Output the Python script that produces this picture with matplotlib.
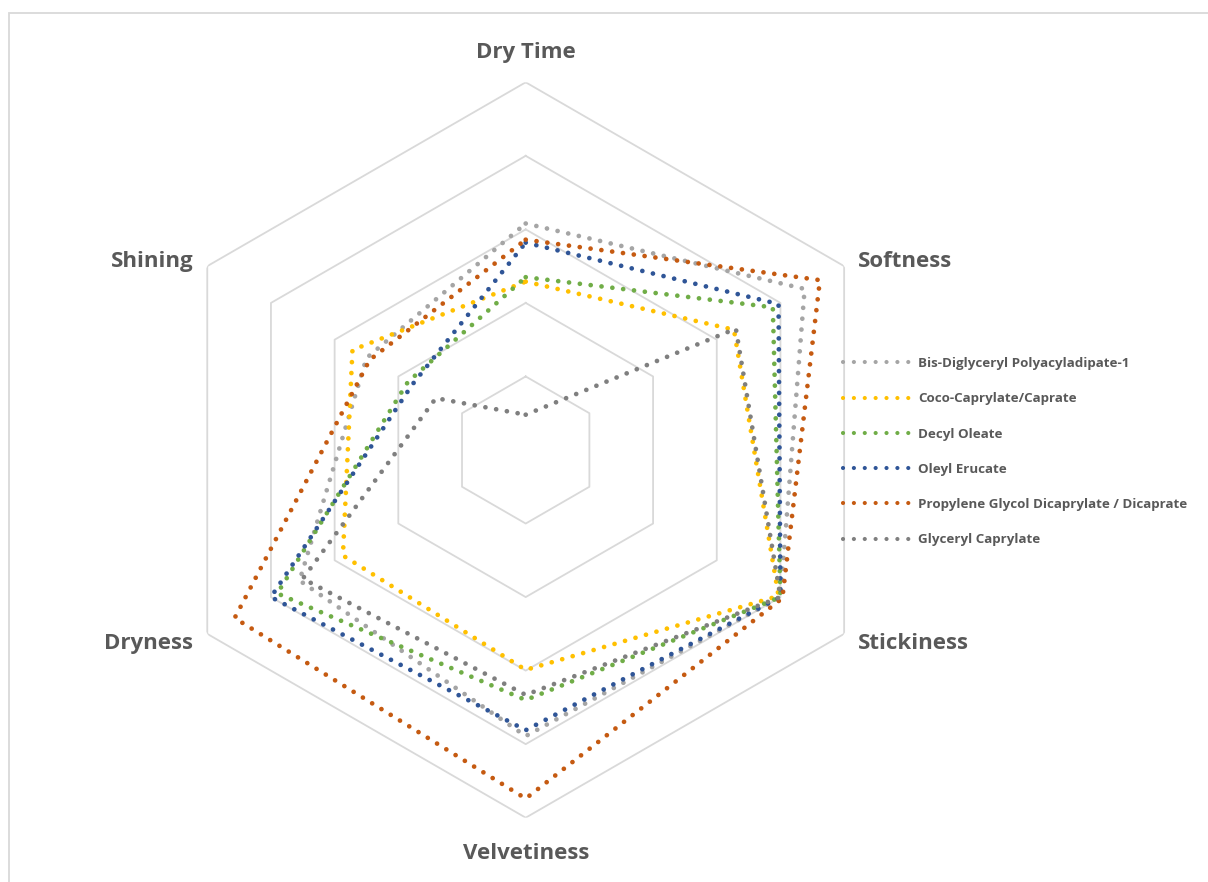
import numpy as np
import matplotlib.pyplot as plt
from matplotlib.lines import Line2D
from matplotlib.patches import Rectangle

# axes of the radar, clockwise from the top
categories = ["Dry Time", "Softness", "Stickiness", "Velvetiness", "Dryness", "Shining"]

series_names = ["Bis-Diglyceryl Polyacyladipate-1",
                "Coco-Caprylate/Caprate",
                "Decyl Oleate",
                "Oleyl Erucate",
                "Propylene Glycol Dicaprylate / Dicaprate",
                "Glyceryl Caprylate"]

bis_diglyceryl = [3.08, 4.38, 4.00, 3.89, 3.55, 2.50]
coco_caprylate = [2.29, 3.27, 3.97, 2.99, 2.87, 2.72]
decyl_oleate = [2.35, 3.88, 4.00, 3.40, 3.90, 1.85]
oleyl_erucate = [2.82, 3.97, 4.00, 3.81, 4.00, 1.78]
propylene_glycol = [2.86, 4.62, 4.03, 4.74, 4.57, 2.45]
glyceryl_caprylate = [0.48, 3.30, 4.00, 3.33, 3.50, 1.41]

ring_levels = [1, 2, 3, 4, 5]

colors = ["#A5A5A5", "#FFC000", "#70AD47", "#2F5597", "#C55A11", "#7F7F7F"]

plt.rcParams['font.family'] = ['Open Sans', 'DejaVu Sans']
label_color = "#595959"
grid_color = "#D9D9D9"

W, H = 1208, 882
fig = plt.figure(figsize=(W / 100, H / 100), dpi=100)

# chart border (runs off the right and bottom edge)
fig.add_artist(Rectangle((9 / W, -0.05), 1.2, 1 - 13 / H + 0.05, transform=fig.transFigure,
                         fill=False, ec=grid_color, lw=1.3))

cx, cy, R = 525.7, 450.0, 367.7
ax = fig.add_axes([(cx - R) / W, (H - cy - R) / H, 2 * R / W, 2 * R / H], projection='polar')
ax.set_theta_zero_location('N')
ax.set_theta_direction(-1)
ax.set_ylim(0, 5)
ax.grid(False)
ax.set_xticks([])
ax.set_yticks([])
ax.spines['polar'].set_visible(False)
ax.patch.set_visible(False)

theta = np.deg2rad(np.arange(len(categories)) * 360.0 / len(categories))
theta_closed = np.append(theta, theta[0])

for lev in ring_levels:
    ax.plot(theta_closed, [lev] * len(theta_closed), color=grid_color, lw=1.3, zorder=1)

dot_style = (0, (0.01, 2.3))
all_series = [bis_diglyceryl, coco_caprylate, decyl_oleate, oleyl_erucate,
              propylene_glycol, glyceryl_caprylate]
for name, vals, col in zip(series_names, all_series, colors):
    v = np.append(vals, vals[0])
    ax.plot(theta_closed, v, color=col, lw=3.4, linestyle=dot_style,
            dash_capstyle='round', label=name, zorder=3)

# category labels placed next to the outer vertices
label_pos = [
    ("center", (0, 24)),
    ("left", (14, -1)),
    ("left", (14, -15)),
    ("center", (0, -41)),
    ("right", (-14, -15)),
    ("right", (-14, -1)),
]
for cat, t, (ha, off) in zip(categories, theta, label_pos):
    ax.annotate(cat, xy=(t, 5), xytext=off, textcoords='offset pixels',
                ha=ha, va='baseline', fontsize=16, fontweight='bold',
                color=label_color, annotation_clip=False)

handles = [Line2D([0], [0], color=c, lw=3.0, linestyle=(0, (0.01, 2.6)),
                  dash_capstyle='round') for c in colors]
leg = fig.legend(handles, series_names, loc='upper left',
                 bbox_to_anchor=(843 / W, 1 - 357 / H), frameon=False,
                 fontsize=9.6, handlelength=4.95, handletextpad=0.68,
                 labelspacing=1.67, borderpad=0, borderaxespad=0)
for txt in leg.get_texts():
    txt.set_color(label_color)
    txt.set_fontweight('bold')

fig.savefig("out.png", dpi=100)
